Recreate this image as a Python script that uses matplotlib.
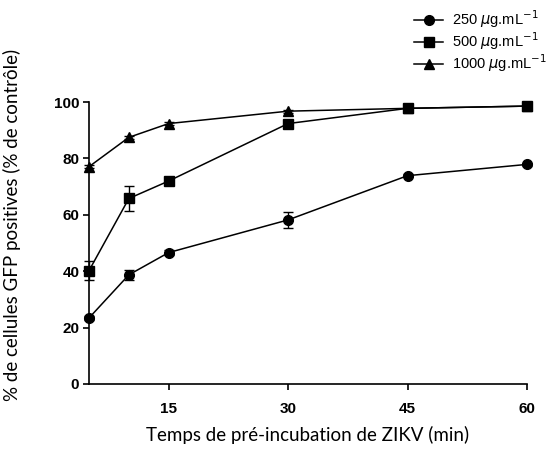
import matplotlib.pyplot as plt

times = [5, 10, 15, 30, 45, 60]
c250 = [23.4, 38.7, 46.6, 58.2, 73.9, 77.9]
c500 = [40.2, 65.8, 72.0, 92.4, 97.8, 98.6]
c1000 = [77.1, 87.5, 92.4, 96.8, 97.8, 98.6]
err250 = [0.8, 1.8, 0.8, 2.8, 0.6, 0.6]
err500 = [3.5, 4.5, 1.0, 1.0, 0.6, 0.5]
err1000 = [0.5, 0.6, 0.5, 0.5, 0.5, 0.5]

fig = plt.figure(figsize=(5.6, 4.5), dpi=100)
ax = fig.add_axes([0.159, 0.147, 0.782, 0.626])

series = [
    (c250, err250, "o", 7, r"250 $\mu$g.mL$^{-1}$"),
    (c500, err500, "s", 6.5, r"500 $\mu$g.mL$^{-1}$"),
    (c1000, err1000, "^", 6.5, r"1000 $\mu$g.mL$^{-1}$"),
]
for vals, err, mk, ms, lab in series:
    ax.errorbar(times, vals, yerr=err, color="black", marker=mk, markersize=ms,
                linewidth=1.1, capsize=3.5, elinewidth=1.0, label=lab, clip_on=False,
                zorder=3)

ax.set_xlim(5, 60)
ax.set_ylim(0, 100)
ax.set_xticks([15, 30, 45, 60])
ax.set_yticks([0, 20, 40, 60, 80, 100])
ax.spines["top"].set_visible(False)
ax.spines["right"].set_visible(False)
for s in ["left", "bottom"]:
    ax.spines[s].set_linewidth(1.2)
ax.tick_params(direction="out", length=4, width=1.2)
for lbl in ax.get_xticklabels() + ax.get_yticklabels():
    lbl.set_fontfamily("Liberation Sans")
    lbl.set_fontweight("bold")
    lbl.set_fontsize(11)
ax.tick_params(axis="x", pad=9)
ax.tick_params(axis="y", pad=3)

ax.set_xlabel("Temps de pré-incubation de ZIKV (min)", fontfamily="Lato",
              fontsize=13.5)
ax.xaxis.set_label_coords(0.5, -0.15)
ax.set_ylabel("% de cellules GFP positives (% de contrôle)", fontfamily="Lato",
              fontsize=13.5)
ax.yaxis.set_label_coords(-0.155, 0.565)

handles, labels = ax.get_legend_handles_labels()
handles = [h[0] for h in handles]
fig.legend(handles, labels, loc="upper right", bbox_to_anchor=(1.0, 1.01),
           frameon=False, prop={"family": "Liberation Sans", "size": 10.5},
           handlelength=2.0, labelspacing=0.02, handletextpad=0.6)

fig.savefig("out.png", dpi=100)
